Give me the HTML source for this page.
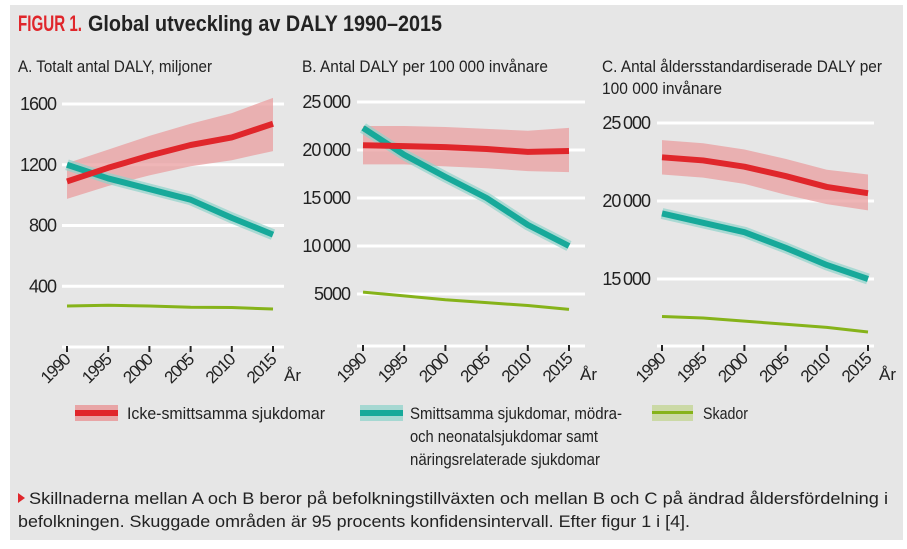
<!DOCTYPE html>
<html><head><meta charset="utf-8"><style>
body{margin:0;background:#fff;}
svg{display:block;font-family:"Liberation Sans",sans-serif;}
</style></head><body>
<svg id="fig" width="907" height="549" viewBox="0 0 907 549">
<rect x="10" y="5" width="893" height="535" fill="#e6e6e6"/>
<text x="18" y="31" font-size="22" font-weight="bold"><tspan fill="#e0262b" textLength="64" lengthAdjust="spacingAndGlyphs">FIGUR 1.</tspan><tspan x="88" fill="#222" textLength="354" lengthAdjust="spacingAndGlyphs">Global utveckling av DALY 1990–2015</tspan></text>
<text x="18" y="72" font-size="17" fill="#222" textLength="194" lengthAdjust="spacingAndGlyphs">A. Totalt antal DALY, miljoner</text>
<text x="302" y="72" font-size="17" fill="#222" textLength="246" lengthAdjust="spacingAndGlyphs">B. Antal DALY per 100 000 invånare</text>
<text x="602" y="72" font-size="17" fill="#222" textLength="280" lengthAdjust="spacingAndGlyphs">C. Antal åldersstandardiserade DALY per</text>
<text x="602" y="94" font-size="17" fill="#222" textLength="120" lengthAdjust="spacingAndGlyphs">100 000 invånare</text>
<g id="charts"></g>
<g>
<rect x="75" y="405" width="43" height="16" fill="#e8a5a6"/>
<rect x="75" y="410" width="43" height="6" fill="#e0262b"/>
<text x="127" y="419" font-size="17" fill="#222" textLength="198" lengthAdjust="spacingAndGlyphs">Icke-smittsamma sjukdomar</text>
<rect x="360" y="405" width="43" height="16" fill="#a6d8d2"/>
<rect x="360" y="410" width="43" height="6" fill="#17a99a"/>
<text x="410" y="419" font-size="17" fill="#222" textLength="212" lengthAdjust="spacingAndGlyphs">Smittsamma sjukdomar, mödra-</text>
<text x="410" y="442" font-size="17" fill="#222" textLength="188" lengthAdjust="spacingAndGlyphs">och neonatalsjukdomar samt</text>
<text x="410" y="465" font-size="17" fill="#222" textLength="190" lengthAdjust="spacingAndGlyphs">näringsrelaterade sjukdomar</text>
<rect x="652" y="405" width="41" height="16" fill="#cbd9a6"/>
<rect x="652" y="411" width="41" height="3" fill="#86b31a"/>
<text x="703" y="419" font-size="17" fill="#222" textLength="45" lengthAdjust="spacingAndGlyphs">Skador</text>
</g>
<polygon points="18,493 25,498 18,503" fill="#e0262b"/>
<text x="29" y="504" font-size="17" fill="#222" textLength="859" lengthAdjust="spacingAndGlyphs">Skillnaderna mellan A och B beror på befolkningstillväxten och mellan B och C på ändrad åldersfördelning i</text>
<text x="18" y="527" font-size="17" fill="#222" textLength="672" lengthAdjust="spacingAndGlyphs">befolkningen. Skuggade områden är 95 procents konfidensintervall. Efter figur 1 i [4].</text>
</svg>
<script>
const years = [1990, 1995, 2000, 2005, 2010, 2015];
const aTicks = [400, 800, 1200, 1600];
const aNcd = [1090, 1180, 1260, 1330, 1380, 1470];
const aNcdLo = [975, 1060, 1130, 1190, 1230, 1290];
const aNcdHi = [1210, 1300, 1390, 1470, 1540, 1640];
const aCd = [1200, 1110, 1040, 970, 850, 740];
const aInj = [270, 275, 270, 262, 260, 250];
const bTicks = [5000, 10000, 15000, 20000, 25000];
const bNcd = [20500, 20400, 20300, 20100, 19800, 19900];
const bNcdLo = [18500, 18500, 18300, 18100, 17800, 17700];
const bNcdHi = [22500, 22500, 22400, 22200, 22000, 22300];
const bCd = [22300, 19500, 17200, 15000, 12200, 10000];
const bInj = [5200, 4800, 4400, 4100, 3800, 3400];
const cTicks = [15000, 20000, 25000];
const cNcd = [22800, 22600, 22200, 21600, 20900, 20500];
const cNcdLo = [21700, 21500, 21100, 20400, 19800, 19400];
const cNcdHi = [23900, 23700, 23300, 22700, 22000, 21700];
const cCd = [19200, 18600, 18000, 17000, 15900, 15000];
const cInj = [12600, 12500, 12300, 12100, 11900, 11600];

const NS = 'http://www.w3.org/2000/svg';
const root = document.getElementById('charts');
function mk(tag, attrs, parent){const e=document.createElementNS(NS,tag);for(const k in attrs)e.setAttribute(k,attrs[k]);(parent||root).appendChild(e);return e;}
function fmt(v){const s=String(v);return v>=10000?s.slice(0,s.length-3)+'\u2009'+s.slice(-3):s;}

const panels = [
 {id:'a', gx0:62, gx1:284, x0:67, x1:273, yTop:104, vTop:1600, vBot:0, yBot:347, axisY:347, ticks:aTicks, labX:56, ncd:aNcd, lo:aNcdLo, hi:aNcdHi, cd:aCd, inj:aInj},
 {id:'b', gx0:357, gx1:585, x0:363, x1:569, yTop:102, vTop:25000, vBot:0, yBot:342, axisY:346, ticks:bTicks, labX:350, ncd:bNcd, lo:bNcdLo, hi:bNcdHi, cd:bCd, inj:bInj},
 {id:'c', gx0:657, gx1:874, x0:662, x1:868, yTop:123, vTop:25000, vBot:15000, yBot:279, axisY:346, ticks:cTicks, labX:650, ncd:cNcd, lo:cNcdLo, hi:cNcdHi, cd:cCd, inj:cInj}
];
panels.forEach(p=>{
  const g = mk('g',{});
  
  
  const xs = y => p.x0 + (y-years[0])/(years[years.length-1]-years[0])*(p.x1-p.x0);
  const ys = v => p.yBot + (v-p.vBot)/(p.vTop-p.vBot)*(p.yTop-p.yBot);
  p.ticks.forEach(t=>{
    const l = mk('line',{x1:p.gx0,x2:p.gx1,y1:ys(t),y2:ys(t),stroke:'#fff','stroke-width':3},g);
    
    
    const tx = mk('text',{x:p.labX,y:ys(t)+6,'font-size':18,'text-anchor':'end',fill:'#222','letter-spacing':'-1'},g);
    
    
    tx.textContent = fmt(t);
  });
  const ax = mk('line',{x1:p.gx0,x2:p.gx1,y1:p.axisY,y2:p.axisY,stroke:'#fff','stroke-width':3},g);
  
  
  years.forEach(y=>{
    const tk = mk('line',{x1:xs(y),x2:xs(y),y1:p.axisY-1,y2:p.axisY+5,stroke:'#222','stroke-width':2},g);
    
    
    const tl = mk('text',{x:xs(y)+4,y:p.axisY+14,'font-size':17,'text-anchor':'end',fill:'#222','letter-spacing':'-1.2',transform:`rotate(-45 ${xs(y)+4} ${p.axisY+14})`},g);
    
    
    tl.textContent = y;
  });
  const ar = mk('text',{x:p.x1+11,y:p.axisY+34,'font-size':17,fill:'#222'},g);
  
  
  ar.textContent = 'År';
  let pts = years.map((y,i)=>xs(y)+','+ys(p.hi[i]));
  pts = pts.concat(years.map((y,i)=>xs(y)+','+ys(p.lo[i])).reverse());
  const band = mk('polygon',{points:pts.join(' '),fill:'#e99d9f','fill-opacity':0.75},g);
  
  
  const line = (vals,color,w,name,op)=>{
    const e = mk('polyline',{points:years.map((y,i)=>xs(y)+','+ys(vals[i])).join(' '),fill:'none',stroke:color,'stroke-width':w,'stroke-linejoin':'round','stroke-opacity':op||1},g);
    
    
  };
  line(p.cd,'#8fd3cb',11,'cd-band-'+p.id,0.7);
  line(p.cd,'#17a99a',6,'cd-line-'+p.id);
  line(p.ncd,'#e0262b',6,'ncd-line-'+p.id);
  line(p.inj,'#86b31a',3,'injury-line-'+p.id);
});
</script>
</body></html>
